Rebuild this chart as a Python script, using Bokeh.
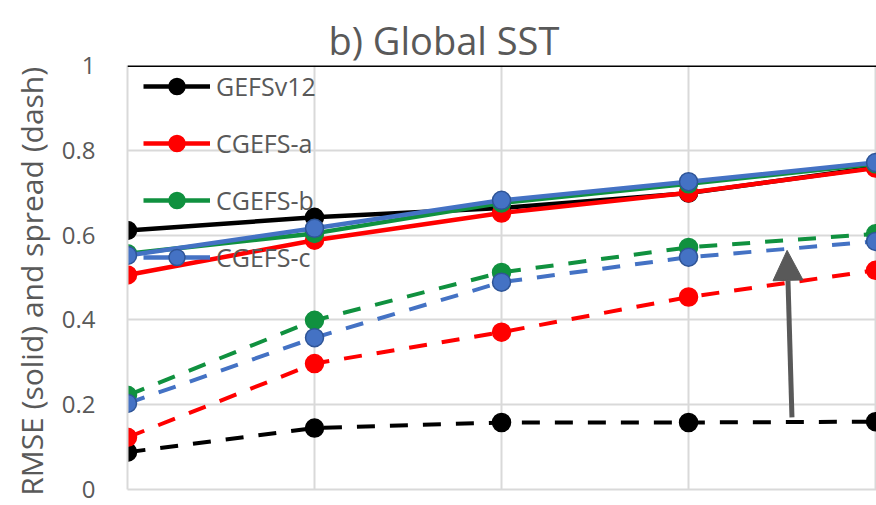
from bokeh.plotting import figure
from bokeh.models import (Range1d, FixedTicker, Legend, LegendItem, Arrow,
                          NormalHead, Span, ColumnDataSource, LinearAxis, Title)
from bokeh.embed import file_html
from bokeh.resources import INLINE

# ---- data ----
x_pos = [0, 1, 2, 3, 4]
series_names = ["GEFSv12", "CGEFS-a", "CGEFS-b", "CGEFS-c"]
rmse_gefsv12 = [0.611, 0.642, 0.664, 0.699, 0.760]
rmse_cgefs_a = [0.506, 0.588, 0.652, 0.700, 0.758]
rmse_cgefs_b = [0.556, 0.604, 0.676, 0.721, 0.768]
rmse_cgefs_c = [0.552, 0.616, 0.682, 0.726, 0.771]
spread_gefsv12 = [0.088, 0.145, 0.158, 0.158, 0.160]
spread_cgefs_a = [0.123, 0.297, 0.371, 0.454, 0.517]
spread_cgefs_b = [0.222, 0.399, 0.512, 0.571, 0.603]
spread_cgefs_c = [0.203, 0.358, 0.489, 0.548, 0.585]
y_ticks = [0, 0.2, 0.4, 0.6, 0.8, 1]
y_tick_labels = ["0", "0.2", "0.4", "0.6", "0.8", "1"]
title_text = "b) Global SST"
y_label = "RMSE (solid)  and spread (dash)"

colors = ["#000000", "#ff0000", "#10913f", "#4472c4"]
outlines = ["#000000", "#ff0000", "#10913f", "#2f5597"]
rmse = [rmse_gefsv12, rmse_cgefs_a, rmse_cgefs_b, rmse_cgefs_c]
spread = [spread_gefsv12, spread_cgefs_a, spread_cgefs_b, spread_cgefs_c]

FONT = "Open Sans"
GRAY = "#595959"

p = figure(width=876, height=505, output_backend="svg", toolbar_location=None,
           x_range=Range1d(0, 4.005), y_range=Range1d(0, 1),
           min_border_left=127, min_border_right=0, min_border_top=65,
           min_border_bottom=16)
p.outline_line_color = None
p.background_fill_color = "white"
p.border_fill_color = "white"

# invisible spacer axis between title and plot area (added first -> nearest)
spacer = LinearAxis(ticker=FixedTicker(ticks=[]), axis_line_color=None,
                    major_tick_line_color=None, minor_tick_line_color=None,
                    major_tick_out=13, minor_tick_out=0, major_tick_in=0)
p.add_layout(spacer, "above")

# title (added after -> outermost)
p.add_layout(Title(text=title_text, text_font=FONT, text_font_size="38px",
                   text_font_style="normal", text_color=GRAY, align="left",
                   offset=201, vertical_align="bottom", standoff=0), "above")

# axes
p.below[0].ticker = FixedTicker(ticks=[])
p.below[0].axis_line_color = "#d9d9d9"
p.below[0].axis_line_width = 2
p.below[0].major_tick_line_color = None
p.below[0].minor_tick_line_color = None

p.yaxis.ticker = FixedTicker(ticks=y_ticks)
p.yaxis.major_label_overrides = {t: l for t, l in zip(y_ticks, y_tick_labels)}
p.yaxis.axis_line_color = "#d9d9d9"
p.yaxis.axis_line_width = 2
p.yaxis.major_tick_line_color = None
p.yaxis.minor_tick_line_color = None
p.yaxis.major_label_standoff = 26
p.yaxis.major_label_text_font = FONT
p.yaxis.major_label_text_font_size = "24px"
p.yaxis.major_label_text_color = GRAY
p.yaxis.axis_label = y_label
p.yaxis.axis_label_text_font = FONT
p.yaxis.axis_label_text_font_size = "30px"
p.yaxis.axis_label_text_font_style = "normal"
p.yaxis.axis_label_text_color = GRAY
p.yaxis.axis_label_standoff = 7

p.xgrid.ticker = FixedTicker(ticks=x_pos)
p.xgrid.grid_line_color = "#d9d9d9"
p.xgrid.grid_line_width = 2
p.ygrid.ticker = FixedTicker(ticks=y_ticks)
p.ygrid.grid_line_color = "#d9d9d9"
p.ygrid.grid_line_width = 2

# top black line
p.add_layout(Span(location=1, dimension="width", line_color="black", line_width=3))

items = []
# spread (dashed) first
for name, ys, c, oc in zip(series_names, spread, colors, outlines):
    src = ColumnDataSource(dict(x=x_pos, y=ys))
    p.line("x", "y", source=src, line_color=c, line_width=4, line_dash="18 15")
    p.scatter("x", "y", source=src, size=18, fill_color=c, line_color=oc, line_width=1.5)

# rmse (solid)
for name, ys, c, oc in zip(series_names, rmse, colors, outlines):
    src = ColumnDataSource(dict(x=x_pos, y=ys))
    l = p.line("x", "y", source=src, line_color=c, line_width=4.5)
    s = p.scatter("x", "y", source=src, size=18, fill_color=c, line_color=oc, line_width=1.5)
    items.append(LegendItem(label=name, renderers=[l, s]))

legend = Legend(items=items, location=(16, 212), padding=0, margin=0,
                spacing=17, glyph_width=67, glyph_height=40, label_height=40,
                label_standoff=6, label_text_font=FONT, label_text_font_size="25px",
                label_text_color=GRAY, background_fill_alpha=0,
                border_line_color=None)
p.add_layout(legend, "center")

# arrow
p.add_layout(Arrow(end=NormalHead(size=30, fill_color=GRAY, line_color=GRAY),
                   x_start=3.553, y_start=0.17, x_end=3.527, y_end=0.564,
                   line_color=GRAY, line_width=5))

open("out.html", "w").write(file_html(p, INLINE))
